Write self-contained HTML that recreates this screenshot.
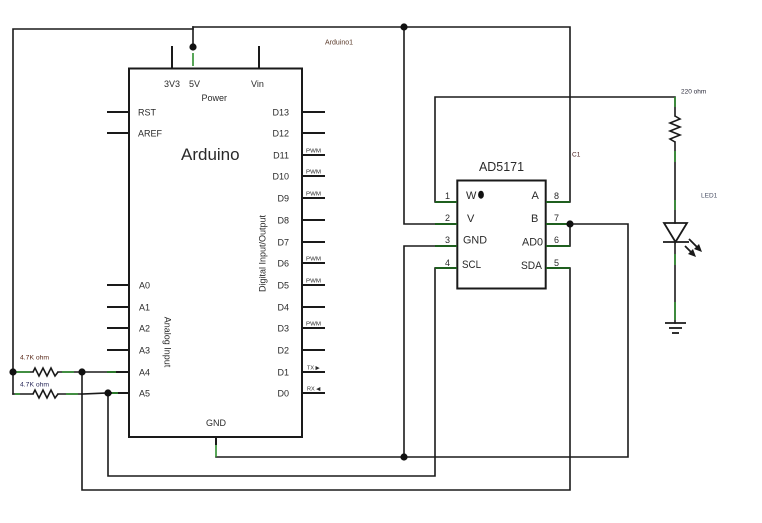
<!DOCTYPE html>
<html>
<head>
<meta charset="utf-8">
<style>
  html,body{margin:0;padding:0;background:#fff;}
  svg{display:block;}
  text{font-family:"Liberation Sans",Arial,sans-serif;fill:#2a2a2a;}
</style>
</head>
<body>
<svg width="762" height="523" viewBox="0 0 762 523" xmlns="http://www.w3.org/2000/svg">
  <rect width="762" height="523" fill="#fff"/>

  <!-- ===== WIRES ===== -->
  <g stroke="#1a1a1a" stroke-width="1.6" fill="none" stroke-linecap="square">
    <polyline points="13,394 13,29 193,29"/>
    <line x1="193" y1="27" x2="193" y2="47"/>
    <polyline points="193,27 570,27 570,202"/>
    <polyline points="404,27 404,224 435,224"/>
    <polyline points="435,246 404,246 404,457"/>
    <polyline points="435,202 435,97 675,97 675,116"/>
    <polyline points="435,268 435,476 108,476 108,393"/>
    <polyline points="570,268 570,490 82,490 82,372"/>
    <polyline points="570,224 628,224 628,457 216,457"/>
    <line x1="570" y1="224" x2="570" y2="246"/>
    <line x1="675" y1="142" x2="675" y2="223"/>
    <line x1="675" y1="242" x2="675" y2="323"/>
    <line x1="13" y1="372" x2="33" y2="372"/>
    <line x1="58" y1="372" x2="107" y2="372"/>
    <line x1="13" y1="394" x2="33" y2="394"/>
    <line x1="58" y1="394" x2="82" y2="394"/>
    <line x1="82" y1="394" x2="107" y2="393"/>
  </g>

  <!-- Arduino A4/A5 pins (black) -->
  <g stroke="#1a1a1a" stroke-width="2">
    <line x1="107" y1="372" x2="129" y2="372"/>
    <line x1="107" y1="393" x2="129" y2="393"/>
  </g>

  <!-- green wire ends -->
  <g stroke="#2f8f2f" stroke-width="1.6" fill="none">
    <line x1="15" y1="372" x2="30" y2="372"/>
    <line x1="62" y1="372" x2="74" y2="372"/>
    <line x1="107" y1="372" x2="116" y2="372"/>
    <line x1="15" y1="394" x2="20" y2="394"/>
    <line x1="66" y1="394" x2="78" y2="394"/>
    <line x1="112" y1="393" x2="118" y2="393"/>
    <line x1="675" y1="97" x2="675" y2="107"/>
    <line x1="675" y1="151" x2="675" y2="162"/>
    <line x1="675" y1="200" x2="675" y2="210"/>
    <line x1="675" y1="254" x2="675" y2="265"/>
    <line x1="675" y1="302" x2="675" y2="320"/>
    <line x1="193" y1="53" x2="193" y2="66"/>
    <line x1="216" y1="445" x2="216" y2="457"/>
  </g>

  <!-- resistors -->
  <g stroke="#1a1a1a" stroke-width="1.6" fill="none" stroke-linejoin="miter">
    <polyline points="33,372 35,368 39,376 43,368 47,376 51,368 55,376 58,372"/>
    <polyline points="33,394 35,390 39,398 43,390 47,398 51,390 55,398 58,394"/>
    <polyline points="675,116 680,119 670,123 680,127 670,131 680,135 670,139 675,142"/>
  </g>

  <!-- LED -->
  <g stroke="#1a1a1a" stroke-width="1.8" fill="none">
    <polygon points="664,223 687,223 675.5,242"/>
    <line x1="663" y1="242" x2="689" y2="242"/>
    <line x1="689" y1="239" x2="698" y2="248"/>
    <line x1="685" y1="246" x2="692" y2="253"/>
  </g>
  <g fill="#1a1a1a">
    <polygon points="702,252 694,249 699,244"/>
    <polygon points="696,257 688,254 693,249"/>
  </g>
  <g stroke="#1a1a1a" stroke-width="1.8">
    <line x1="665" y1="323" x2="686" y2="323"/>
    <line x1="669" y1="328" x2="682" y2="328"/>
    <line x1="672" y1="333" x2="679" y2="333"/>
  </g>

  <!-- ===== ARDUINO ===== -->
  <rect x="129" y="68.5" width="173" height="368.5" fill="none" stroke="#1a1a1a" stroke-width="2"/>
  <g stroke="#1a1a1a" stroke-width="2">
    <line x1="172" y1="46" x2="172" y2="68"/>
    <line x1="259" y1="46" x2="259" y2="68"/>
    <line x1="216" y1="437" x2="216" y2="445"/>
    <line x1="107" y1="112" x2="129" y2="112"/>
    <line x1="107" y1="133" x2="129" y2="133"/>
    <line x1="107" y1="285" x2="129" y2="285"/>
    <line x1="107" y1="307" x2="129" y2="307"/>
    <line x1="107" y1="328" x2="129" y2="328"/>
    <line x1="107" y1="350" x2="129" y2="350"/>
    <line x1="302" y1="112" x2="325" y2="112"/>
    <line x1="302" y1="133" x2="325" y2="133"/>
    <line x1="302" y1="155" x2="325" y2="155"/>
    <line x1="302" y1="176" x2="325" y2="176"/>
    <line x1="302" y1="198" x2="325" y2="198"/>
    <line x1="302" y1="220" x2="325" y2="220"/>
    <line x1="302" y1="242" x2="325" y2="242"/>
    <line x1="302" y1="263" x2="325" y2="263"/>
    <line x1="302" y1="285" x2="325" y2="285"/>
    <line x1="302" y1="307" x2="325" y2="307"/>
    <line x1="302" y1="328" x2="325" y2="328"/>
    <line x1="302" y1="350" x2="325" y2="350"/>
    <line x1="302" y1="372" x2="325" y2="372"/>
    <line x1="302" y1="393" x2="325" y2="393"/>
  </g>

  <g font-size="9">
    <text x="164" y="87">3V3</text>
    <text x="189" y="87">5V</text>
    <text x="251" y="87">Vin</text>
    <text x="201.5" y="101">Power</text>
    <text x="138" y="115.5">RST</text>
    <text x="138" y="136.5">AREF</text>
    <text x="139" y="288.5">A0</text>
    <text x="139" y="310.5">A1</text>
    <text x="139" y="331.5">A2</text>
    <text x="139" y="353.5">A3</text>
    <text x="139" y="375.5">A4</text>
    <text x="139" y="396.5">A5</text>
    <text x="216" y="426" text-anchor="middle">GND</text>
    <g text-anchor="end">
      <text x="289" y="115.5">D13</text>
      <text x="289" y="136.5">D12</text>
      <text x="289" y="158.5">D11</text>
      <text x="289" y="179.5">D10</text>
      <text x="289" y="201.5">D9</text>
      <text x="289" y="223.5">D8</text>
      <text x="289" y="245.5">D7</text>
      <text x="289" y="266.5">D6</text>
      <text x="289" y="288.5">D5</text>
      <text x="289" y="310.5">D4</text>
      <text x="289" y="331.5">D3</text>
      <text x="289" y="353.5">D2</text>
      <text x="289" y="375.5">D1</text>
      <text x="289" y="396.5">D0</text>
    </g>
    <text transform="translate(164.5,342) rotate(90)" text-anchor="middle">Analog Input</text>
    <text transform="translate(265.5,253.5) rotate(-90)" text-anchor="middle">Digital Input/Output</text>
  </g>
  <text x="181" y="160" font-size="17">Arduino</text>

  <g font-size="5.5">
    <text x="306" y="152.5" textLength="15" lengthAdjust="spacingAndGlyphs">PWM</text>
    <text x="306" y="173.5" textLength="15" lengthAdjust="spacingAndGlyphs">PWM</text>
    <text x="306" y="195.5" textLength="15" lengthAdjust="spacingAndGlyphs">PWM</text>
    <text x="306" y="260.5" textLength="15" lengthAdjust="spacingAndGlyphs">PWM</text>
    <text x="306" y="282.5" textLength="15" lengthAdjust="spacingAndGlyphs">PWM</text>
    <text x="306" y="325.5" textLength="15" lengthAdjust="spacingAndGlyphs">PWM</text>
    <text x="307" y="369.5">TX ▶</text>
    <text x="307" y="390.5">RX ◀</text>
  </g>

  <!-- ===== AD5171 ===== -->
  <rect x="457.3" y="180.5" width="88.4" height="108" fill="none" stroke="#1a1a1a" stroke-width="2"/>
  <g stroke="#1f5f1f" stroke-width="2">
    <line x1="435" y1="202" x2="457" y2="202"/>
    <line x1="435" y1="224" x2="457" y2="224"/>
    <line x1="435" y1="246" x2="457" y2="246"/>
    <line x1="435" y1="268" x2="457" y2="268"/>
    <line x1="546" y1="202" x2="570" y2="202"/>
    <line x1="546" y1="224" x2="570" y2="224"/>
    <line x1="546" y1="246" x2="570" y2="246"/>
    <line x1="546" y1="268" x2="570" y2="268"/>
  </g>
  <ellipse cx="481" cy="194.7" rx="2.9" ry="4" fill="#111"/>
  <text x="479" y="171" font-size="13" textLength="45" lengthAdjust="spacingAndGlyphs">AD5171</text>
  <g font-size="11">
    <text x="466" y="199">W</text>
    <text x="467" y="222">V</text>
    <text x="463" y="243.5" textLength="24" lengthAdjust="spacingAndGlyphs">GND</text>
    <text x="462" y="268" textLength="19" lengthAdjust="spacingAndGlyphs">SCL</text>
    <text x="531.5" y="199">A</text>
    <text x="531" y="222">B</text>
    <text x="522" y="245.5" textLength="21" lengthAdjust="spacingAndGlyphs">AD0</text>
    <text x="521" y="269" textLength="21" lengthAdjust="spacingAndGlyphs">SDA</text>
  </g>
  <g font-size="9">
    <text x="445" y="199">1</text>
    <text x="445" y="221">2</text>
    <text x="445" y="243">3</text>
    <text x="445" y="266">4</text>
    <text x="554" y="199">8</text>
    <text x="554" y="221">7</text>
    <text x="554" y="243">6</text>
    <text x="554" y="266">5</text>
  </g>

  <!-- junction dots -->
  <g fill="#111">
    <circle cx="193" cy="47" r="3.6"/>
    <circle cx="404" cy="27" r="3.6"/>
    <circle cx="570" cy="224" r="3.6"/>
    <circle cx="404" cy="457" r="3.6"/>
    <circle cx="13" cy="372" r="3.6"/>
    <circle cx="82" cy="372" r="3.6"/>
    <circle cx="108" cy="393" r="3.6"/>
  </g>

  <!-- part labels -->
  <text x="325" y="44.5" font-size="7" style="fill:#5a3a2a">Arduino1</text>
  <text x="681" y="93.5" font-size="6.5" style="fill:#2a2a3a">220 ohm</text>
  <text x="572" y="156.5" font-size="6.5" style="fill:#4a2020">C1</text>
  <text x="701" y="197.5" font-size="6.5" style="fill:#4a5066">LED1</text>
  <text x="20" y="359.5" font-size="6.8" style="fill:#5a2a1a">4.7K ohm</text>
  <text x="20" y="386.5" font-size="6.8" style="fill:#2a2a5a">4.7K ohm</text>
</svg>
</body>
</html>
